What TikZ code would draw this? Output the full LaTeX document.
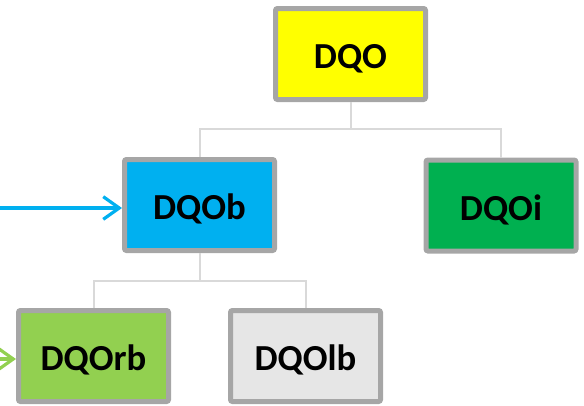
\documentclass[tikz,border=0pt]{standalone}
\usepackage{fontspec}
\setmainfont{Carlito}
\usetikzlibrary{arrows.meta}

\definecolor{boxgray}{RGB}{166,166,166}
\definecolor{linkgray}{RGB}{217,217,217}
\definecolor{dqoyellow}{RGB}{255,255,0}
\definecolor{dqoblue}{RGB}{0,176,240}
\definecolor{dqogreen}{RGB}{0,176,80}
\definecolor{dqolime}{RGB}{146,208,80}
\definecolor{dqolight}{RGB}{230,230,230}

\tikzset{every picture/.style={line width=0.75pt}}
\tikzset{
	dqobox/.style={draw=boxgray, line width=3.75pt, rounded corners=1.5pt,
		minimum width=112.5pt, minimum height=68.25pt, inner sep=0pt,
		text height=22pt, text depth=0pt,
		font=\fontsize{27.5}{30}\selectfont\bfseries},
	link/.style={draw=linkgray, line width=1.5pt},
	feed/.style={line width=2.4pt, -{Straight Barb[length=12pt,width=17pt,line width=2.4pt]}}
}

\begin{document}
\begin{tikzpicture}[x=0.75pt,y=0.75pt,yscale=-1,xscale=1]
	\useasboundingbox (0,0) rectangle (584,405);

	%Boxes
	\node[dqobox, fill=dqoyellow] (dqo) at (350.5,54) {DQO};
	\node[dqobox, fill=dqoblue] (dqob) at (199.5,205) {DQOb};
	\node[dqobox, fill=dqogreen] (dqoi) at (501,205.5) {DQOi};
	\node[dqobox, fill=dqolime] (dqorb) at (93.5,356) {DQOrb};
	\node[dqobox, fill=dqolight] (dqolb) at (305.5,356) {DQOlb};

	%Tree links
	\draw[link] (dqo.south) -- ++(0,27) -| (dqob.north);
	\draw[link] (dqo.south) -- ++(0,27) -| (dqoi.north);
	\draw[link] (dqob.south) -- ++(0,28) -| (dqorb.north);
	\draw[link] (dqob.south) -- ++(0,28) -| (dqolb.north);

	%Incoming arrows
	\coordinate (inb) at (0,208);
	\coordinate (inrb) at (-20,359);
	\draw[feed, dqoblue] (inb) -- (inb -| dqob.west);
	\draw[feed, dqolime] (inrb) -- (inrb -| dqorb.west);

\end{tikzpicture}
\end{document}
